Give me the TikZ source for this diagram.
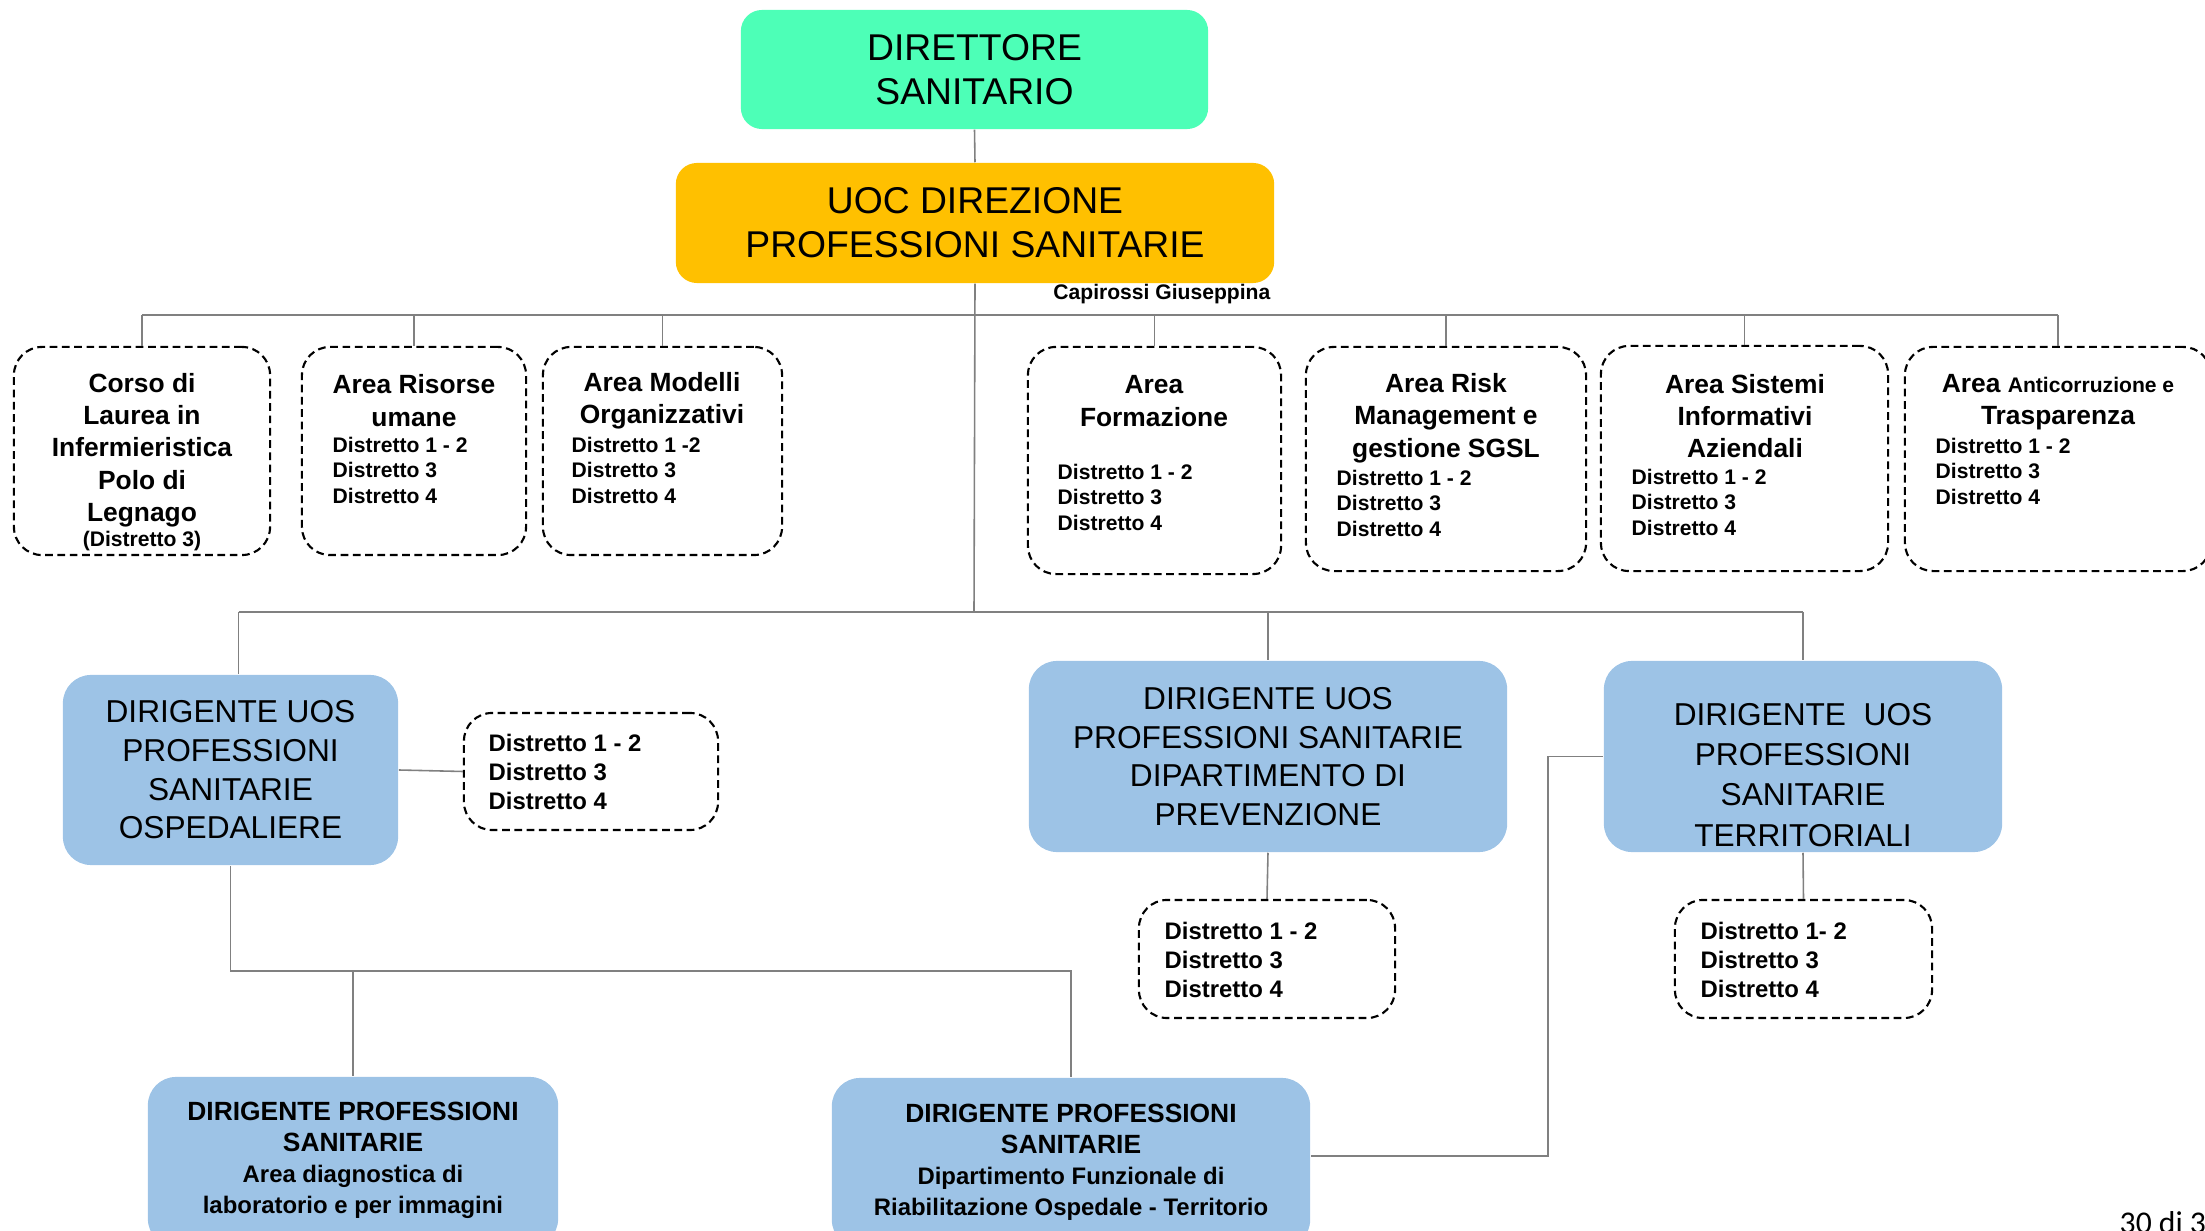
\documentclass[tikz,border=0pt]{standalone}
\usepackage{fontspec}
\setmainfont{Liberation Sans}
\newfontfamily\pagefont{Carlito}
\usepackage{xcolor}
\usepackage{tikz}
\definecolor{mintgreen}{HTML}{4DFFB7}
\definecolor{uocorange}{HTML}{FFC000}
\definecolor{uosblue}{HTML}{9DC3E6}
\definecolor{linkgray}{HTML}{808080}
\newcommand{\bigfont}{\fontsize{10.6}{12.6}\selectfont}
\newcommand{\uosfont}{\fontsize{9}{11}\selectfont}
\newcommand{\areafont}{\fontsize{7.5}{9.2}\selectfont\bfseries}
\newcommand{\distfont}{\fontsize{6}{7.25}\selectfont\bfseries}
\newcommand{\subdistfont}{\fontsize{6.8}{8.2}\selectfont\bfseries}

\begin{document}
\begin{tikzpicture}[x=0.01cm, y=-0.01cm,
    link/.style={draw=linkgray, line width=0.45pt},
    headbox/.style={rounded corners=6pt, inner sep=0pt, align=center, font=\bigfont},
    uosbox/.style={fill=uosblue, rounded corners=8pt, inner sep=0pt, align=center, font=\uosfont},
    areabox/.style={draw, dash pattern=on 2.2pt off 1.3pt, line width=0.6pt, rounded corners=8pt, inner sep=0pt},
    areatitle/.style={align=center, inner sep=0pt, font=\areafont},
    distlist/.style={align=left, anchor=west, inner sep=0pt, font=\distfont},
    subdist/.style={align=left, anchor=west, inner sep=0pt, font=\subdistfont}]
  \useasboundingbox (0,0) rectangle (2205,1231);
  \clip (0,0) rectangle (2205,1231);

  % Direzione
  \node[headbox, fill=mintgreen, minimum width=4.67cm, minimum height=1.19cm] (dir) at (974.5,69.5) {DIRETTORE\\SANITARIO};
  \node[headbox, fill=uocorange, minimum width=5.98cm, minimum height=1.20cm] (uoc) at (975,223) {UOC DIREZIONE\\PROFESSIONI SANITARIE};
  \node[anchor=east, inner sep=0pt, font=\distfont] (resp) at (1271,294) {Capirossi Giuseppina};

  % Aree (prima fila)
  \node[areabox, minimum width=2.56cm, minimum height=2.08cm] (corso) at (142,451) {};
  \node[areatitle] (corsot) at (142,450) {Corso di\\Laurea in\\Infermieristica\\Polo di\\Legnago};
  \node[inner sep=0pt, font=\distfont] (corsod) at (142,541) {(Distretto 3)};

  \node[areabox, minimum width=2.24cm, minimum height=2.08cm] (risorse) at (414,451) {};
  \node[areatitle] (risorset) at (414,400.5) {Area Risorse\\umane};
  \node[distlist] (risorsed) at (332,470) {Distretto 1 - 2\\Distretto 3\\Distretto 4};

  \node[areabox, minimum width=2.39cm, minimum height=2.08cm] (modelli) at (662.5,451) {};
  \node[areatitle] (modellit) at (662,401) {Area Modelli\\Organizzativi};
  \node[distlist] (modellid) at (571,470) {Distretto 1 -2\\Distretto 3\\Distretto 4};

  \node[areabox, minimum width=2.53cm, minimum height=2.27cm] (formaz) at (1154.5,460.5) {};
  \node[areatitle] (formazt) at (1154,401) {Area\\Formazione};
  \node[distlist] (formazd) at (1057,497) {Distretto 1 - 2\\Distretto 3\\Distretto 4};

  \node[areabox, minimum width=2.80cm, minimum height=2.24cm] (risk) at (1446,459) {};
  \node[areatitle] (riskt) at (1446,418) {Area Risk\\Management e\\gestione SGSL};
  \node[distlist] (riskd) at (1336,503) {Distretto 1 - 2\\Distretto 3\\Distretto 4};

  \node[areabox, minimum width=2.87cm, minimum height=2.25cm] (sistemi) at (1744.5,458.5) {};
  \node[areatitle] (sistemit) at (1745,416) {Area Sistemi\\Informativi\\Aziendali};
  \node[distlist] (sistemid) at (1631,502) {Distretto 1 - 2\\Distretto 3\\Distretto 4};

  \node[areabox, minimum width=3.06cm, minimum height=2.24cm] (anticorr) at (2058,459) {};
  \node[areatitle] (anticorrt) at (2058,402) {Area {\fontsize{6}{9.2}\selectfont Anticorruzione e}\\Trasparenza};
  \node[distlist] (anticorrd) at (1935,471) {Distretto 1 - 2\\Distretto 3\\Distretto 4};

  % UOS (seconda fila)
  \node[uosbox, minimum width=3.35cm, minimum height=1.90cm] (osp) at (230.5,770) {DIRIGENTE UOS\\PROFESSIONI\\SANITARIE\\OSPEDALIERE};
  \node[areabox, minimum width=2.54cm, minimum height=1.17cm] (ospd) at (591,771.5) {};
  \node[subdist] (ospdt) at (488,772) {Distretto 1 - 2\\Distretto 3\\Distretto 4};

  \node[uosbox, minimum width=4.78cm, minimum height=1.91cm] (prev) at (1268,756.5) {DIRIGENTE UOS\\PROFESSIONI SANITARIE\\DIPARTIMENTO DI\\PREVENZIONE};
  \node[areabox, minimum width=2.56cm, minimum height=1.18cm] (prevd) at (1267,959) {};
  \node[subdist] (prevdt) at (1164,960) {Distretto 1 - 2\\Distretto 3\\Distretto 4};

  \node[uosbox, minimum width=3.98cm, minimum height=1.91cm] (terr) at (1803,756.5) {};
  \node[inner sep=0pt, align=center, font=\fontsize{9}{11.4}\selectfont] (terrt) at (1803,775) {DIRIGENTE\ \ UOS\\PROFESSIONI\\SANITARIE\\TERRITORIALI};
  \node[areabox, minimum width=2.57cm, minimum height=1.18cm] (terrd) at (1803.5,959) {};
  \node[subdist] (terrdt) at (1700,960) {Distretto 1- 2\\Distretto 3\\Distretto 4};

  % Dirigenti (terza fila)
  \node[uosbox, minimum width=4.10cm, minimum height=1.70cm] (diag) at (353,1162) {};
  \node[inner sep=0pt, align=center, font=\bfseries\fontsize{7.5}{8.8}\selectfont] (diagt) at (353,1160)
    {DIRIGENTE PROFESSIONI\\SANITARIE\\{\fontsize{6.8}{8.8}\selectfont Area diagnostica di}\\{\fontsize{6.8}{8.8}\selectfont laboratorio e per immagini}};
  \node[uosbox, minimum width=4.78cm, minimum height=1.70cm] (riab) at (1071,1163) {};
  \node[inner sep=0pt, align=center, font=\bfseries\fontsize{7.5}{8.8}\selectfont] (riabt) at (1071,1162)
    {DIRIGENTE PROFESSIONI\\SANITARIE\\{\fontsize{6.8}{8.8}\selectfont Dipartimento Funzionale di}\\{\fontsize{6.8}{8.8}\selectfont Riabilitazione Ospedale - Territorio}};

  % Connettori
  \coordinate (bus1) at (974,315);
  \coordinate (bus2) at (974,612);
  \coordinate (bus3) at (231,971);
  \draw[link] (dir.south) -- (uoc.north);
  \draw[link] (uoc.south) -- (bus2);
  \draw[link] (corso.north |- bus1) -- (anticorr.north |- bus1);
  \foreach \b in {corso,risorse,modelli,formaz,risk,sistemi,anticorr}
    \draw[link] (\b.north |- bus1) -- (\b.north);
  \draw[link] ([xshift=0.08cm]osp.north |- bus2) -- (terr.north |- bus2);
  \draw[link] ([xshift=0.08cm]osp.north |- bus2) -- ([xshift=0.08cm]osp.north);
  \foreach \b in {prev,terr}
    \draw[link] (\b.north |- bus2) -- (\b.north);
  \draw[link] (osp.east) -- (ospd.west);
  \draw[link] (prev.south) -- (prevd.north);
  \draw[link] (terr.south) -- (terrd.north);
  \draw[link] (osp.south) -- (osp.south |- bus3) -- (riab.north |- bus3) -- (riab.north);
  \draw[link] (diag.north |- bus3) -- (diag.north);
  \draw[link] (terr.west) -- ++(-55,0) |- ([yshift=0.07cm]riab.east);

  % Numero di pagina
  \node[anchor=base west, inner sep=0pt, font=\pagefont\fontsize{9}{11}\selectfont] (pagenum) at (2119,1233) {30 di 30};
\end{tikzpicture}
\end{document}
